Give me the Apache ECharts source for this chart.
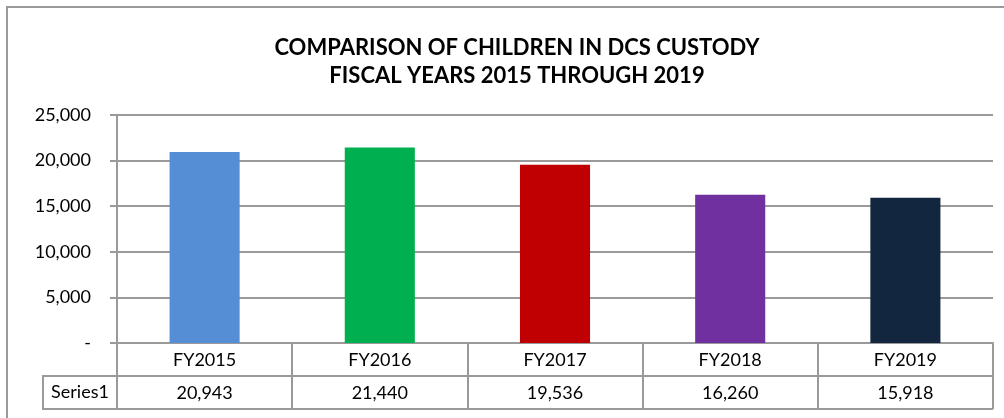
<!DOCTYPE html>
<html><head><meta charset="utf-8">
<script src="https://cdn.jsdelivr.net/npm/echarts@6/dist/echarts.min.js"></script>
<style>html,body{margin:0;padding:0;background:#fff}#c{width:1004px;height:418px}</style>
</head><body><div id="c"></div>
<script>
const categories = ['FY2015','FY2016','FY2017','FY2018','FY2019'];
const values = [20943, 21440, 19536, 16260, 15918];
const barColors = ['#558ED5','#00B050','#C00000','#7030A0','#12263F'];
const seriesName = 'Series1';
const yTicks = [0, 5000, 10000, 15000, 20000, 25000];

const FONT = 'Lato, "Open Sans", sans-serif';
const GRAY = '#9a9a9a';
const fmt = v => v.toLocaleString('en-US');

const chart = echarts.init(document.getElementById('c'));
const L = 117, R = 993, T = 115, B = 343, ROW = 33;
chart.setOption({
  animation: false,
  title: {
    text: 'COMPARISON OF CHILDREN IN DCS CUSTODY\nFISCAL YEARS 2015 THROUGH 2019',
    left: 512, top: 29, textAlign: 'center',
    textStyle: { fontFamily: FONT, fontWeight: 'bold', fontSize: 22, color: '#000', lineHeight: 28 }
  },
  grid: { left: L, right: 1004 - R, top: T, bottom: 418 - B, containLabel: false },
  xAxis: [{
    type: 'category', data: categories,
    axisLine: { lineStyle: { color: GRAY, width: 2 } },
    axisTick: { show: true, length: 2 * ROW, lineStyle: { color: GRAY, width: 2 } },
    axisLabel: { margin: 8, fontFamily: FONT, fontSize: 18, color: '#000' }
  }, {
    type: 'category', data: categories, position: 'bottom', offset: ROW,
    axisLine: { show: false }, axisTick: { show: false },
    axisLabel: { margin: 8, fontFamily: FONT, fontSize: 18, color: '#000',
      formatter: (v, i) => fmt(values[i]) }
  }],
  yAxis: {
    type: 'value', min: yTicks[0], max: yTicks[yTicks.length - 1], interval: yTicks[1] - yTicks[0],
    axisLine: { show: true, lineStyle: { color: GRAY, width: 2 } },
    axisTick: { show: true, length: 7, lineStyle: { color: GRAY, width: 2 } },
    splitLine: { show: true, lineStyle: { color: GRAY, width: 2 } },
    axisLabel: { margin: 26, fontFamily: FONT, fontSize: 18, color: '#000',
      formatter: v => (v === 0 ? '-' : fmt(v)) }
  },
  series: [{
    type: 'bar', name: seriesName, barWidth: '40%',
    data: values.map((v, i) => ({ value: v, itemStyle: { color: barColors[i] } }))
  }],
  graphic: [
    { type: 'rect', shape: { x: 7, y: 7, width: 1100, height: 500 }, style: { fill: null, stroke: GRAY, lineWidth: 2 }, silent: true },
    { type: 'line', shape: { x1: L, y1: B + ROW, x2: R, y2: B + ROW }, style: { stroke: GRAY, lineWidth: 2 } },
    { type: 'rect', shape: { x: 43, y: B + ROW, width: L - 43, height: ROW }, style: { fill: null, stroke: GRAY, lineWidth: 2 } },
    { type: 'line', shape: { x1: L, y1: B + 2 * ROW, x2: R, y2: B + 2 * ROW }, style: { stroke: GRAY, lineWidth: 2 } },
    { type: 'text', x: 80, y: B + ROW + ROW / 2, style: { text: seriesName, fontFamily: FONT, fontSize: 18, fill: '#000', align: 'center', verticalAlign: 'middle' } }
  ]
});
</script></body></html>
